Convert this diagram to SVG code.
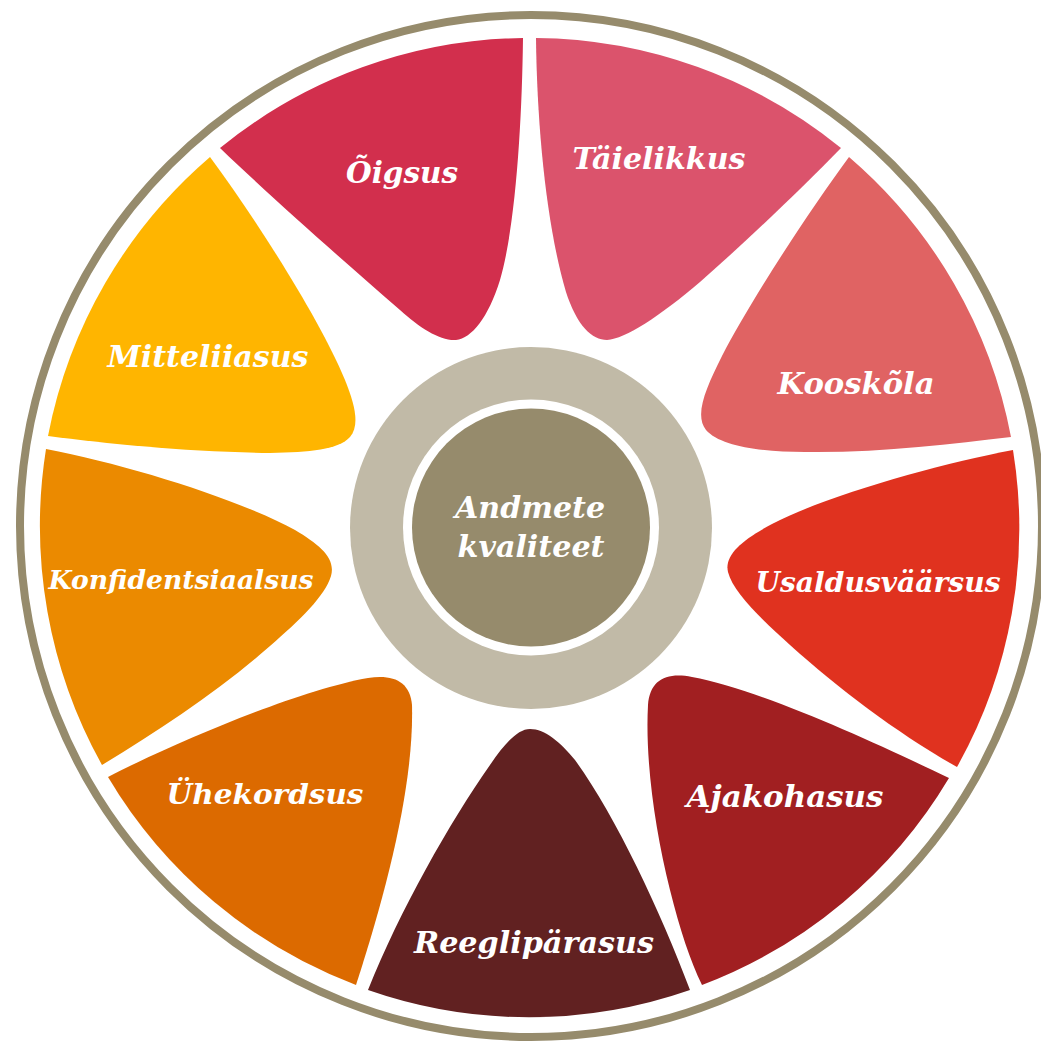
<svg xmlns="http://www.w3.org/2000/svg" width="1041" height="1044" viewBox="0 0 1041 1044">
<style>
.lbl{font-family:"DejaVu Serif","Liberation Serif",serif;font-weight:bold;font-style:italic;fill:#ffffff;text-anchor:middle;}
.ring{fill:none;stroke:#968B6C;stroke-width:8;}
</style>
<rect width="1041" height="1044" fill="#ffffff"/>
<g id="outer-ring"><circle class="ring" cx="531" cy="526" r="511"/></g>
<g id="connectors"></g>
<g id="oigsus">
<path fill="#D22F4D" d="M220,148 A490,490 0 0 1 523,38 C522,120 516,225 500,280 C488,318 472,338 456,340 C440,341 420,328 400,310 C340,258 270,196 220,148 Z"/>
<text class="lbl" x="402" y="183" font-size="30" textLength="112" lengthAdjust="spacingAndGlyphs">Õigsus</text>
</g>
<g id="taielikkus">
<path fill="#DB536C" d="M536,38 C537,130 547,228 566,292 C577,326 592,340 607,340 C625,339 660,316 700,282 C750,238 800,190 841,148 A490,490 0 0 0 536,38 Z"/>
<text class="lbl" x="659" y="169" font-size="29" textLength="173" lengthAdjust="spacingAndGlyphs">Täielikkus</text>
</g>
<g id="kooskola">
<path fill="#E06363" d="M849,157 C810,210 752,298 722,356 C706,388 694,415 706,430 C720,446 760,452 805,452 C880,453 950,444 1011,437 A489,489 0 0 0 849,157 Z"/>
<text class="lbl" x="856" y="394" font-size="30" textLength="157" lengthAdjust="spacingAndGlyphs">Kooskõla</text>
</g>
<g id="usaldusvaarsus">
<path fill="#E0321F" d="M1013,450 C940,464 830,494 772,524 C742,540 724,555 728,572 C733,592 760,618 790,645 C840,690 900,735 957,767 A489,489 0 0 0 1013,450 Z"/>
<text class="lbl" x="878" y="592" font-size="27" textLength="245" lengthAdjust="spacingAndGlyphs">Usaldusväärsus</text>
</g>
<g id="ajakohasus">
<path fill="#A11F21" d="M949,778 C880,745 762,690 692,677 C666,672 650,680 648,705 C645,760 655,830 670,890 C680,930 690,960 702,985 A489,489 0 0 0 949,778 Z"/>
<text class="lbl" x="785" y="807" font-size="29" textLength="197" lengthAdjust="spacingAndGlyphs">Ajakohasus</text>
</g>
<g id="reeglipararasus">
<path fill="#612121" d="M368,990 C400,910 450,822 490,765 C505,743 518,729 530,729 C545,729 560,742 575,760 C615,815 660,910 690,990 A489,489 0 0 1 368,990 Z"/>
<text class="lbl" x="534" y="953" font-size="30" textLength="240" lengthAdjust="spacingAndGlyphs">Reeglipärasus</text>
</g>
<g id="uhekordsus">
<path fill="#DC6A00" d="M108,777 C180,740 300,690 368,678 C394,674 410,682 412,705 C414,780 390,880 356,985 A490,490 0 0 1 108,777 Z"/>
<text class="lbl" x="265" y="804" font-size="28" textLength="197" lengthAdjust="spacingAndGlyphs">Ühekordsus</text>
</g>
<g id="konfidentsiaalsus">
<path fill="#EB8A00" d="M46,449 C130,465 240,500 295,530 C320,545 336,558 331,576 C325,596 300,620 270,646 C220,690 160,730 102,765 A491,491 0 0 1 46,449 Z"/>
<text class="lbl" x="181" y="589" font-size="26.5" textLength="265" lengthAdjust="spacingAndGlyphs">Konfidentsiaalsus</text>
</g>
<g id="mitteliiasus">
<path fill="#FFB500" d="M210,157 C260,225 320,320 345,380 C355,405 360,425 350,437 C338,450 310,452 270,453 C190,452 110,444 48,436 A490,490 0 0 1 210,157 Z"/>
<text class="lbl" x="208" y="367" font-size="29" textLength="201" lengthAdjust="spacingAndGlyphs">Mitteliiasus</text>
</g>
<g id="andmete-kvaliteet">
<circle cx="531" cy="528" r="181" fill="#C1BAA7"/>
<circle cx="531" cy="527.5" r="128" fill="#ffffff"/>
<circle cx="531" cy="527.5" r="119" fill="#968B6C"/>
<text class="lbl" x="530" y="518" font-size="29" textLength="150" lengthAdjust="spacingAndGlyphs">Andmete</text>
<text class="lbl" x="531" y="557" font-size="29" textLength="147" lengthAdjust="spacingAndGlyphs">kvaliteet</text>
</g>
</svg>
